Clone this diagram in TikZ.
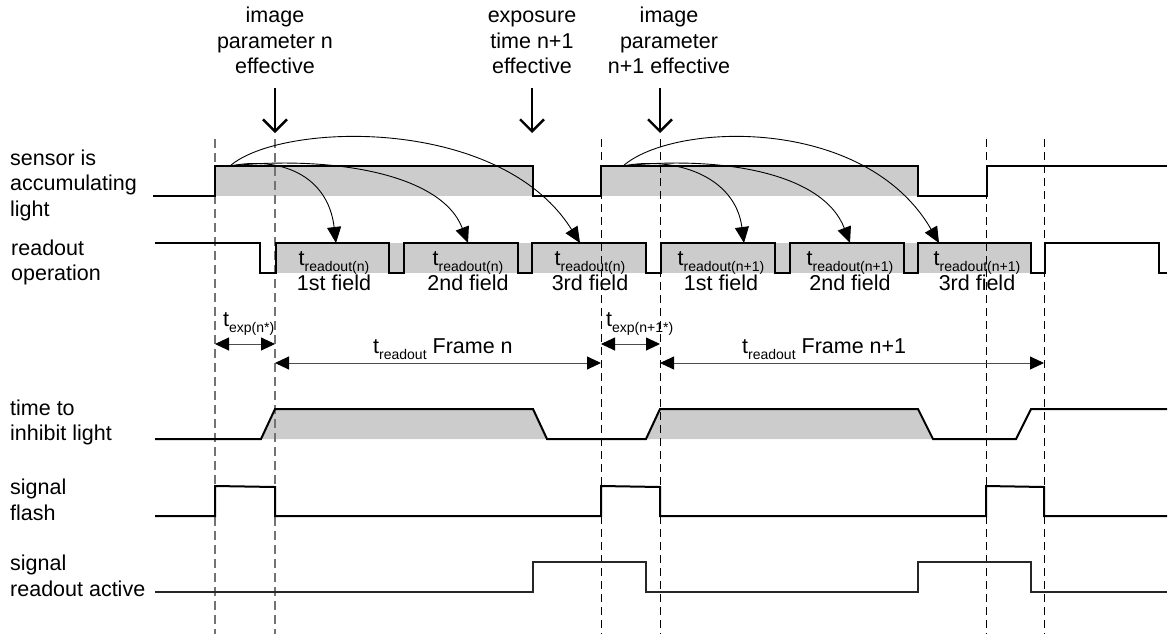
\documentclass[tikz,border=0pt]{standalone}
\usepackage{fontspec}
\setmainfont{Liberation Sans}
\usetikzlibrary{arrows.meta}
\newcommand{\lbsub}[1]{\raisebox{-6pt}{\fontsize{14}{14}\selectfont #1}}
\begin{document}
\begin{tikzpicture}[x=1pt,y=-1pt,
  txt/.style={font=\fontsize{21.5}{25.5}\selectfont, inner sep=0pt, anchor=base},
  ltxt/.style={txt, anchor=base west},
  sig/.style={line width=2pt, line join=miter, line cap=butt},
  band/.style={fill=black!20, draw=none},
  gdash/.style={draw=black!55, line width=1.2pt, dash pattern=on 9pt off 5pt},
  bdash/.style={draw=black, line width=0.9pt, dash pattern=on 8pt off 5pt},
  dimarrow/.style={draw=black!70, line width=0.9pt,
     {Triangle[length=14pt,width=13pt,color=black]}-{Triangle[length=14pt,width=13pt,color=black]}},
  arc/.style={draw=black, line width=0.9pt, -{Triangle[length=16pt,width=14pt]}},
  evarrow/.style={draw=black, line width=2.4pt, -{Straight Barb[length=12pt,width=24pt]}}]
\useasboundingbox (0,0) rectangle (1173,635);

% ---------- gray fills ----------
\fill[band] (215,166) rectangle (533,196);
\fill[band] (601,166) rectangle (918,196);
\fill[band] (276,243) rectangle (646,273);
\fill[band] (661,243) rectangle (1031,273);
\fill[band] (261,439) -- (275,409) -- (533,409) -- (547,439) -- cycle;
\fill[band] (646,439) -- (660,409) -- (918,409) -- (933,439) -- cycle;

% ---------- left labels ----------
\node[ltxt] (l1a) at (10,165) {sensor is};
\node[ltxt] (l1b) at (10,190.5) {accumulating};
\node[ltxt] (l1c) at (10,216) {light};
\node[ltxt] (l2a) at (11,255) {readout};
\node[ltxt] (l2b) at (11,280.5) {operation};
\node[ltxt] (l3a) at (10,415) {time to};
\node[ltxt] (l3b) at (10,440.5) {inhibit light};
\node[ltxt] (l4a) at (10,494) {signal};
\node[ltxt] (l4b) at (10,520) {flash};
\node[ltxt] (l5a) at (10,570) {signal};
\node[ltxt] (l5b) at (10,596) {readout active};

% ---------- top labels ----------
\node[txt] (t1a) at (275,22.5) {image};
\node[txt] (t1b) at (275,48) {parameter n};
\node[txt] (t1c) at (275,73.5) {effective};
\node[txt] (t2a) at (532,22.5) {exposure};
\node[txt] (t2b) at (532,48) {time n+1};
\node[txt] (t2c) at (532,73.5) {effective};
\node[txt] (t3a) at (669,22.5) {image};
\node[txt] (t3b) at (669,48) {parameter};
\node[txt] (t3c) at (669,73.5) {n+1 effective};

% ---------- field labels ----------
\node[txt] (f1t) at (334,265) {t\lbsub{readout(n)}};
\node[txt] (f1l) at (334,290.5) {1st field};
\node[txt] (f2t) at (468,265) {t\lbsub{readout(n)}};
\node[txt] (f2l) at (468,290.5) {2nd field};
\node[txt] (f3t) at (590,265) {t\lbsub{readout(n)}};
\node[txt] (f3l) at (590,290.5) {3rd field};
\node[txt] (g1t) at (721,265) {t\lbsub{readout(n+1)}};
\node[txt] (g1l) at (721,290.5) {1st field};
\node[txt] (g2t) at (850,265) {t\lbsub{readout(n+1)}};
\node[txt] (g2l) at (850,290.5) {2nd field};
\node[txt] (g3t) at (977,265) {t\lbsub{readout(n+1)}};
\node[txt] (g3l) at (977,290.5) {3rd field};

% ---------- dimension labels ----------
\node[ltxt] (e1) at (223,326) {t\lbsub{exp(n*)}};
\node[ltxt] (e2) at (606,326) {t\lbsub{exp(n+1*)}};
\node[ltxt] (r1) at (373,353) {t\lbsub{readout} Frame n};
\node[ltxt] (r2) at (742,353) {t\lbsub{readout} Frame n+1};

% ---------- dashed guides ----------
\draw[gdash] (215,139) -- (215,634);
\draw[gdash] (275,139) -- (275,634);
\draw[bdash] (601,139) -- (601,634);
\draw[bdash] (660,139) -- (660,634);
\draw[bdash] (986,139) -- (986,634);
\draw[bdash] (1044,139) -- (1044,634);

% ---------- signals ----------
\draw[sig] (153,196) -- (215,196) -- (215,166) -- (533,166) -- (533,196) -- (601,196)
  -- (601,166) -- (918,166) -- (918,196) -- (987,196) -- (987,166) -- (1167,166);
\draw[sig] (155,243) -- (260,243) -- (260,273) -- (276,273) -- (276,243) -- (389,243)
  -- (389,273) -- (404,273) -- (404,243) -- (518,243) -- (518,273) -- (532,273)
  -- (532,243) -- (646,243) -- (646,273) -- (661,273) -- (661,243) -- (775,243)
  -- (775,273) -- (790,273) -- (790,243) -- (904,243) -- (904,273) -- (918,273)
  -- (918,243) -- (1031,243) -- (1031,273) -- (1045,273) -- (1045,243) -- (1159,243)
  -- (1159,273) -- (1167,273);
\draw[sig] (155,439) -- (261,439) -- (275,409) -- (533,409) -- (547,439) -- (646,439)
  -- (660,409) -- (918,409) -- (933,439) -- (1016,439) -- (1031,409) -- (1167,409);
\draw[sig] (155,516) -- (215,516) -- (215,486) -- (275,487) -- (275,516) -- (601,516)
  -- (601,486) -- (660,487) -- (660,516) -- (986,516) -- (986,486) -- (1044,487)
  -- (1044,516) -- (1167,516);
\draw[sig, line width=1.7pt, draw=black!85] (155,592) -- (533,592) -- (533,562) -- (646,562) -- (646,592)
  -- (918,592) -- (918,562) -- (1031,562) -- (1031,592) -- (1167,592);

% ---------- dimension arrows ----------
\coordinate (d0) at (215,344);
\coordinate (d1) at (275,344);
\coordinate (d2) at (275,363);
\coordinate (d3) at (601,363);
\coordinate (d4) at (601,344);
\coordinate (d5) at (660,344);
\coordinate (d6) at (660,363);
\coordinate (d7) at (1044,363);
\draw[dimarrow] (d0) -- (d1);
\draw[dimarrow] (d2) -- (d3);
\draw[dimarrow] (d4) -- (d5);
\draw[dimarrow] (d6) -- (d7);

% ---------- event arrows ----------
\coordinate (ev1a) at (275,88);  \coordinate (ev1b) at (275,133);
\coordinate (ev2a) at (532,88);  \coordinate (ev2b) at (532,133);
\coordinate (ev3a) at (660,88);  \coordinate (ev3b) at (660,133);
\draw[evarrow] (ev1a) -- (ev1b);
\draw[evarrow] (ev2a) -- (ev2b);
\draw[evarrow] (ev3a) -- (ev3b);

% ---------- curved arrows ----------
\coordinate (s1) at (230,166);
\coordinate (s2) at (623,166);
\coordinate (a1) at (336,243);
\coordinate (a2) at (468,243);
\coordinate (a3) at (580,243);
\coordinate (b1) at (744,243);
\coordinate (b2) at (850,243);
\coordinate (b3) at (939,243);
\draw[arc] (s1) .. controls (280,156) and (328,175) .. (a1);
\draw[arc] (s1) .. controls (320,156) and (440,170) .. (a2);
\draw[arc] (s1) .. controls (280,122) and (500,115) .. (a3);
\draw[arc] (s2) .. controls (673,156) and (735,175) .. (b1);
\draw[arc] (s2) .. controls (713,156) and (822,170) .. (b2);
\draw[arc] (s2) .. controls (673,122) and (865,115) .. (b3);
\end{tikzpicture}
\end{document}
